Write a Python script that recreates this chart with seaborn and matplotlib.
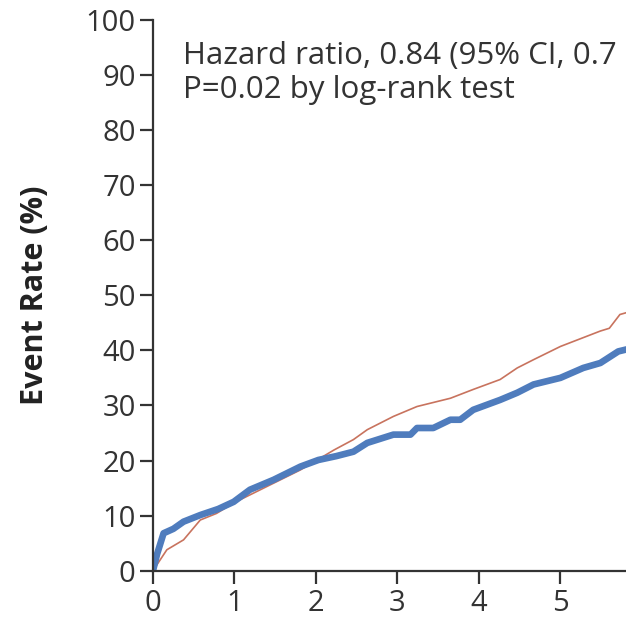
import matplotlib
matplotlib.use("Agg")
import matplotlib.pyplot as plt
import seaborn as sns
import pandas as pd

# Data (years vs. cumulative event rate, %)
blue_years = [0.0, 0.05, 0.13, 0.25, 0.375, 0.58, 0.8, 0.99, 1.19, 1.48, 1.81, 2.03, 2.25, 2.46,
              2.63, 2.95, 3.16, 3.24, 3.44, 3.65, 3.77, 3.93, 4.26, 4.47, 4.67, 5.0, 5.28, 5.49, 5.71, 5.85]
blue_rate = [0.0, 3.0, 6.8, 7.6, 8.9, 10.1, 11.2, 12.5, 14.7, 16.5, 18.9, 20.1, 20.8, 21.6,
             23.2, 24.7, 24.7, 25.9, 25.9, 27.4, 27.4, 29.2, 31.0, 32.3, 33.8, 35.0, 36.8, 37.7, 39.8, 40.3]
red_years = [0.0, 0.17, 0.375, 0.58, 0.78, 0.99, 1.40, 1.81, 2.22, 2.46, 2.63, 2.95, 3.24, 3.65,
             3.93, 4.26, 4.47, 4.67, 5.0, 5.28, 5.49, 5.6, 5.73, 5.85]
red_rate = [0.0, 3.8, 5.6, 9.2, 10.4, 12.3, 15.3, 18.3, 21.9, 23.8, 25.6, 28.0, 29.8, 31.3,
            32.9, 34.7, 36.8, 38.3, 40.7, 42.3, 43.5, 44.0, 46.5, 47.0]
x_ticks = [0, 1, 2, 3, 4, 5]
y_ticks = [0, 10, 20, 30, 40, 50, 60, 70, 80, 90, 100]
# Annotation as visible in the (cropped) reference
annotation = "Hazard ratio, 0.84 (95% CI, 0.7\nP=0.02 by log-rank test"

sns.set_theme(style="ticks")
plt.rcParams['font.family'] = ['Open Sans', 'DejaVu Sans']

df_blue = pd.DataFrame({"years": blue_years, "rate": blue_rate})
df_red = pd.DataFrame({"years": red_years, "rate": red_rate})

fig = plt.figure(figsize=(6.26, 6.24), dpi=100)
ax = fig.add_axes([0.2444, 0.0854, 0.768, 0.883])

sns.lineplot(data=df_red, x="years", y="rate", ax=ax, color="#c8735e", linewidth=1.2,
             estimator=None, sort=False)
sns.lineplot(data=df_blue, x="years", y="rate", ax=ax, color="#4f7cbd", linewidth=4.8,
             estimator=None, sort=False, solid_capstyle="butt")

ax.set_xlim(0, 5.9)
ax.set_ylim(0, 100)
ax.set_xticks(x_ticks)
ax.set_yticks(y_ticks)
ax.set_xticklabels([str(t) for t in x_ticks])
ax.set_yticklabels([str(t) for t in y_ticks])
ax.set_xlabel("")
ax.set_ylabel("Event Rate (%)", fontsize=22, fontweight="bold", color="#222222", va="center")
ax.yaxis.set_label_coords(-0.245, 0.5)

for s in ["top", "right"]:
    ax.spines[s].set_visible(False)
for s in ["left", "bottom"]:
    ax.spines[s].set_color("#333333")
    ax.spines[s].set_linewidth(1.6)
ax.tick_params(axis="both", direction="out", length=9.5, width=1.6, color="#333333",
               labelsize=21, labelcolor="#333333")
ax.tick_params(axis="y", pad=3)
ax.tick_params(axis="x", pad=4)

ax.text(0.37, 90.3, annotation, fontsize=22.5, color="#333333", va="center", ha="left",
        linespacing=1.15)

fig.savefig("out.png", dpi=100)
